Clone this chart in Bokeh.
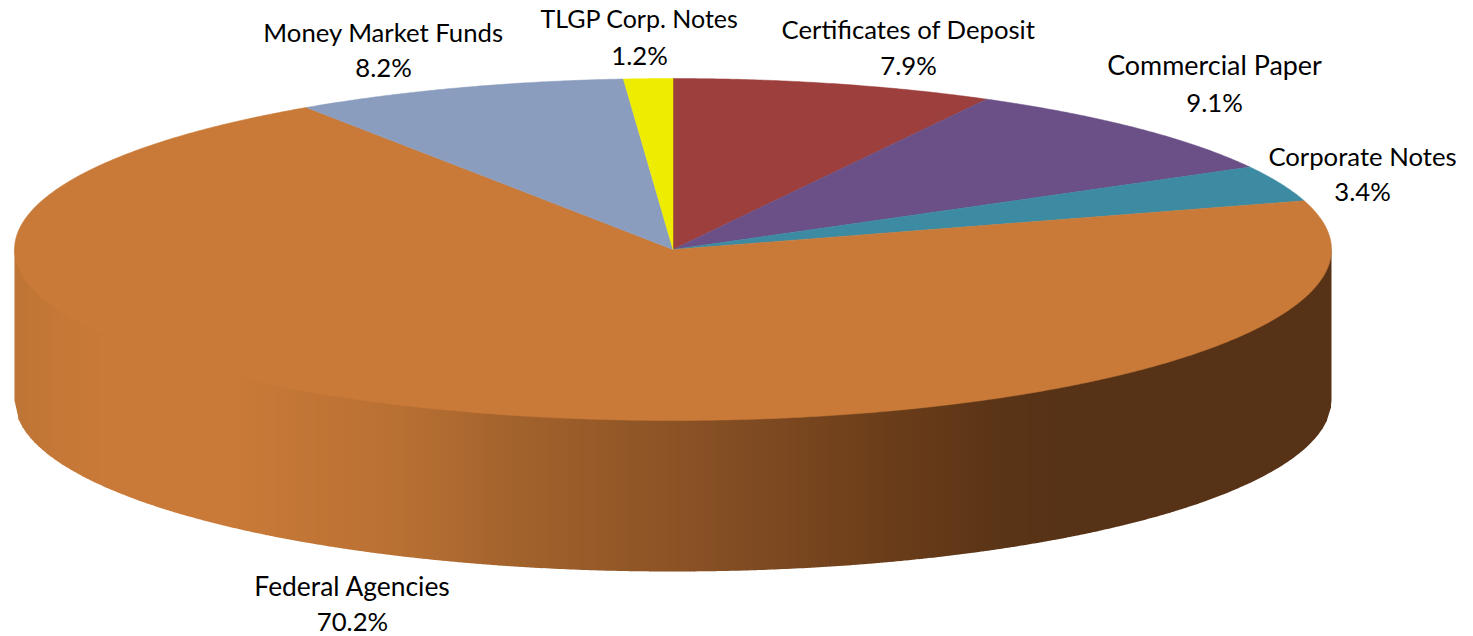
import math
from bokeh.core.properties import value
from bokeh.embed import file_html
from bokeh.models import ColumnDataSource, Range1d
from bokeh.plotting import figure
from bokeh.resources import INLINE

# --- data, clockwise from 12 o'clock ---
categories = ["Certificates of Deposit", "Commercial Paper", "Corporate Notes",
              "Federal Agencies", "Money Market Funds", "TLGP Corp. Notes"]
shares = [7.9, 9.1, 3.4, 70.2, 8.2, 1.2]
colors = ["#9C3F3D", "#6A5086", "#3D8BA3", "#C97A38", "#8A9DBF", "#EEEC00"]

# --- layout, in page pixels ---
label_x = [908, 1214, 1362, 352, 383, 639]
label_name_y = [28, 64, 155, 585, 31, 17]
label_value_y = [64, 101, 190, 620, 66, 54]
name_sizes = ["25.7px", "26.9px", "25.7px", "26.4px", "25.7px", "25px"]
CX, CY, RX, RY, DEPTH = 672.5, 249.0, 658.5, 171.0, 151.0
FONT = "Lato"
FONT_SIZE = "25.7px"

# wall shading as (page x, colour) stops
wall_stops = [(15, (190, 117, 53)), (60, (197, 120, 55)), (110, (201, 122, 56)),
              (230, (201, 122, 56)), (400, (184, 112, 51)), (500, (165, 100, 45)),
              (630, (146, 87, 39)), (750, (128, 75, 34)), (880, (108, 62, 26)),
              (990, (92, 53, 23)), (1060, (87, 50, 22)), (1331, (87, 50, 22))]

p = figure(width=1473, height=636, output_backend="svg", toolbar_location=None,
           x_range=Range1d(0, 1473), y_range=Range1d(636, 0),
           min_border=0, outline_line_color=None, background_fill_color="white")
p.axis.visible = False
p.grid.visible = False


def wall_color(x):
    for (x0, c0), (x1, c1) in zip(wall_stops, wall_stops[1:]):
        if x <= x1:
            f = (x - x0) / (x1 - x0)
            return "#%02X%02X%02X" % tuple(round(a + (b - a) * f) for a, b in zip(c0, c1))
    return "#%02X%02X%02X" % wall_stops[-1][1]


def rim_y(x):
    u = max(-1.0, min(1.0, (x - CX) / RX))
    return CY + RY * math.sqrt(1 - u * u)


# side wall: vertical strips on whole pixels following the rim, each slightly
# overlapped by the next so that no seam shows
xs, ys, cs = [], [], []
left, right = CX - RX, CX + RX
x = left
step = 4.0
while x < right:
    x2 = min(math.floor(x) + step, right)
    xo = min(x2 + 0.5, right)
    xs.append([x, xo, xo, x])
    ys.append([rim_y(x) - 2, rim_y(xo) - 2, rim_y(xo) + DEPTH, rim_y(x) + DEPTH])
    cs.append(wall_color((x + x2) / 2))
    x = x2
p.patches("xs", "ys", source=ColumnDataSource(dict(xs=xs, ys=ys, c=cs)),
          fill_color="c", line_color=None)

# top face: one wedge per category, angle proportional to its share
total = sum(shares)
xs, ys = [], []
start = 0.0
for s in shares:
    end = start + s / total * 2 * math.pi
    n = max(4, int((end - start) * 180))
    angs = [start + (end - start) * i / n for i in range(n + 1)]
    xs.append([CX] + [CX + RX * math.sin(a) for a in angs])
    ys.append([CY] + [CY - RY * math.cos(a) for a in angs])
    start = end
p.patches("xs", "ys", source=ColumnDataSource(dict(xs=xs, ys=ys, c=colors)),
          fill_color="c", line_color="c", line_width=0.5)

# labels
names = ColumnDataSource(dict(x=label_x, y=label_name_y, t=categories, s=name_sizes))
p.text("x", "y", text="t", source=names, text_font=value(FONT),
       text_font_size="s", text_color="black",
       text_align="center", text_baseline="middle")
p.text(label_x, label_value_y, text=[f"{s:.1f}%" for s in shares], text_font=value(FONT),
       text_font_size=value(FONT_SIZE), text_color="black",
       text_align="center", text_baseline="middle")

open("out.html", "w").write(file_html(p, INLINE))
